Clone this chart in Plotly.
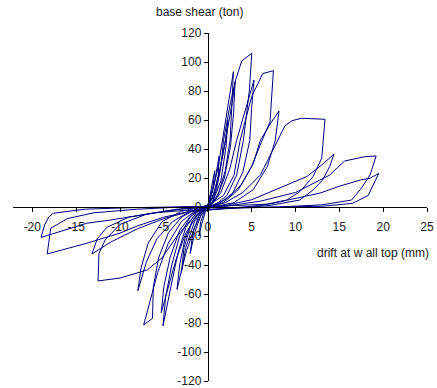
import plotly.graph_objects as go

# Hysteresis loops: drift at wall top (mm) vs base shear (ton)
drift_small = [0, 0.2, 0.5, 0.8, 0.6, 0.2, -0.3, -0.7, -1.0, -0.8, -0.3, 0.2, 0.8, 1.3, 1.2, 0.7, 0,
               -0.8, -1.5, -2.0, -1.7, -1.0, -0.2, 0.5, 1.2, 2.0, 2.3, 2.1, 1.5, 0.6, -0.5, -1.5,
               -2.5, -3.0, -2.7, -1.8, -0.6, 0]
shear_small = [0, 6, 15, 25, 14, 3, -4, -12, -20, -10, -2, 4, 18, 35, 22, 8, 0,
               -6, -18, -32, -18, -6, 0, 6, 20, 45, 60, 42, 18, 4, -2, -10,
               -28, -45, -28, -10, -1, 0]

drift_mid = [0, 0.6, 1.2, 1.8, 2.4, 2.93, 2.75, 2.55, 2.0, 1.2, 0.3, -0.6, -1.5, -2.4, -3.0, -3.5,
             -3.2, -2.6, -1.7, -0.7, 0.2,
             1.0, 1.6, 2.3, 2.8, 3.12, 2.95, 2.6, 1.9, 1.0, 0, -1.2, -2.5, -3.6, -4.5, -5.3,
             -5.0, -4.3, -3.2, -1.8, -0.5, 0.5,
             1.0, 1.5, 1.8, 2.6, 3.2, 3.88, 5.02, 4.75, 4.07, 3.3, 2.2, 1.0, 0, -1.3, -2.5, -3.4,
             -4.2, -5.1, -4.8, -4.1, -3.2, -2.0, -0.8, 0.5,
             1.5, 2.5, 3.3, 4.3, 5.28, 5.0, 4.8, 4.0, 2.8, 1.2, 0, -1.5, -3.0, -4.5, -5.7, -6.6,
             -7.3, -6.3, -6.2, -5.6, -4.5, -3.0, -1.2, 0.3,
             1.8, 3.0, 3.7, 5.0, 6.27, 7.49, 7.1, 6.2, 5.0, 3.5, 1.8, 0, -2, -4, -5.8, -7.0,
             -7.96, -7.6, -6.8, -5.2, -3, -0.8, 0]
shear_mid = [0, 12, 28, 50, 72, 93.3, 70, 46, 25, 9, 1, -4, -14, -30, -44, -56.8,
             -40, -22, -9, -2, 2,
             14, 32, 55, 72, 86.4, 65, 42, 20, 6, 0, -6, -18, -36, -55, -72.9,
             -55, -35, -16, -5, 0, 3,
             12, 28, 46, 72, 88, 100.7, 106, 80.7, 46, 22, 8, 2, 0, -4, -14, -32,
             -55, -82, -62, -40, -20, -7, -1, 2,
             10, 26, 46, 68, 87.6, 68, 46, 24, 9, 2, 0, -3, -10, -25, -45, -65,
             -81.4, -76.8, -55, -35, -18, -7, -1, 2,
             8, 22, 46, 76, 92, 94, 58.8, 46, 28, 12, 3, 0, -3, -10, -22, -38,
             -57.7, -42, -25, -10, -3, 0, 0]

drift_large = [0, 2, 3.8, 5.2, 6, 7.2, 8.13, 7.9, 7.7, 6.8, 5.2, 3, 0.5, -1.5, -3.5, -5.2, -6.9,
               -10, -12.5, -12.4, -11.7, -10, -7, -3.5, 0,
               2, 4, 6, 7.5, 8.8, 9.6, 10.7, 13.37, 13.0, 12, 10.5, 9, 6, 2, -2, -5, -8, -11,
               -13.2, -12.6, -11.5, -9, -5, -1, 2,
               5, 8.2, 11.3, 13.2, 14.4, 13.9, 13.1, 12, 10.5, 7, 2, -2, -5, -8, -10, -13.8,
               -18.3, -18.0, -17.9, -16, -13, -8, -3, 2,
               6, 10, 13.9, 15.6, 17.9, 19.2, 18.5, 17.4, 16.4, 13, 8, 2, -3, -6, -8.5, -11.1,
               -13.8, -16, -19, -18.6, -18.1, -17.6, -14, -9, -4, 1,
               7, 12.8, 15.1, 17.4, 18.5, 19.5, 18.3, 16.5, 13, 8, 3, 0]
shear_large = [0, 5, 15, 30, 46, 58, 66.2, 55, 46, 28, 12, 3, 0, -6, -20, -35, -43.4,
               -49, -51, -32, -22.8, -12, -5, -1.5, 0,
               3, 10, 22, 40, 55.9, 59.5, 61.2, 60.5, 33.6, 20.9, 10.6, 4.8, 1, -1, -3, -8, -15, -24,
               -32.4, -22, -14, -7, -3, 0, 1,
               5, 13, 21, 30, 36.6, 27.8, 18.6, 11.7, 4.8, 1, -1, -3, -7, -13, -18, -25,
               -32.4, -20, -14.7, -8, -4, -1.5, 0, 0.5,
               4, 10, 22, 31.7, 34.7, 35.2, 22, 12, 4.8, 1.5, 0, -1, -2.5, -4, -6.7, -9,
               -11.2, -15.4, -21, -12.4, -6.7, -4.3, -1.5, -0.5, 0, 0.5,
               2, 9.6, 14.5, 18.6, 19.8, 23.2, 8, 2.5, 0.5, 0, -0.5, 0]

x_ticks = [-20, -15, -10, -5, 0, 5, 10, 15, 20, 25]
y_ticks = [-120, -100, -80, -60, -40, -20, 0, 20, 40, 60, 80, 100, 120]

LINE = "#000080"
FONT = "Liberation Sans, Arial, sans-serif"

fig = go.Figure()
for xs, ys in [(drift_small, shear_small), (drift_mid, shear_mid), (drift_large, shear_large)]:
    fig.add_trace(go.Scatter(x=xs, y=ys, mode="lines",
                             line=dict(color=LINE, width=1), showlegend=False,
                             hoverinfo="skip"))

W, H = 437, 388
ml, mr, mt, mb = 13, 10, 33, 7
pw = W - ml - mr
ph = H - mt - mb
xmin, xmax = -22.2, 25
ypos = (0 - xmin) / (xmax - xmin)

fig.update_layout(
    width=W, height=H,
    margin=dict(l=ml, r=mr, t=mt, b=mb, pad=0, autoexpand=False),
    paper_bgcolor="white", plot_bgcolor="white",
    font=dict(family=FONT, size=12, color="#1a1a1a"),
    xaxis=dict(range=[xmin, xmax], tickvals=x_ticks,
               ticktext=[str(v) for v in x_ticks],
               showgrid=False, zeroline=False, showline=True,
               linecolor="black", linewidth=1, ticks="outside", ticklen=4,
               tickcolor="black", anchor="free", position=0.5, automargin=False,
               ticklabelstandoff=5, ticklabeloverflow="allow",
               tickfont=dict(size=12)),
    yaxis=dict(range=[-120, 120], tickvals=y_ticks,
               ticktext=[str(v) for v in y_ticks],
               showgrid=False, zeroline=False, showline=True,
               linecolor="black", linewidth=1, ticks="outside", ticklen=4,
               tickcolor="black", anchor="free", position=ypos, automargin=False,
               ticklabeloverflow="allow",
               tickfont=dict(size=12)),
    annotations=[
        dict(text="base shear (ton)", xref="paper", yref="paper",
             x=(199 - ml) / pw, y=(H - mb - 12) / ph, xanchor="center", yanchor="middle",
             showarrow=False, font=dict(size=12)),
        dict(text="drift at w all top (mm)", xref="paper", yref="paper",
             x=(431 - ml) / pw, y=(H - mb - 253) / ph, xanchor="right", yanchor="middle",
             showarrow=False, font=dict(size=12)),
    ],
)

fig.write_html("out.html", config={"displayModeBar": False},
               post_script="document.body.style.margin='0';document.body.style.overflow='hidden';")
